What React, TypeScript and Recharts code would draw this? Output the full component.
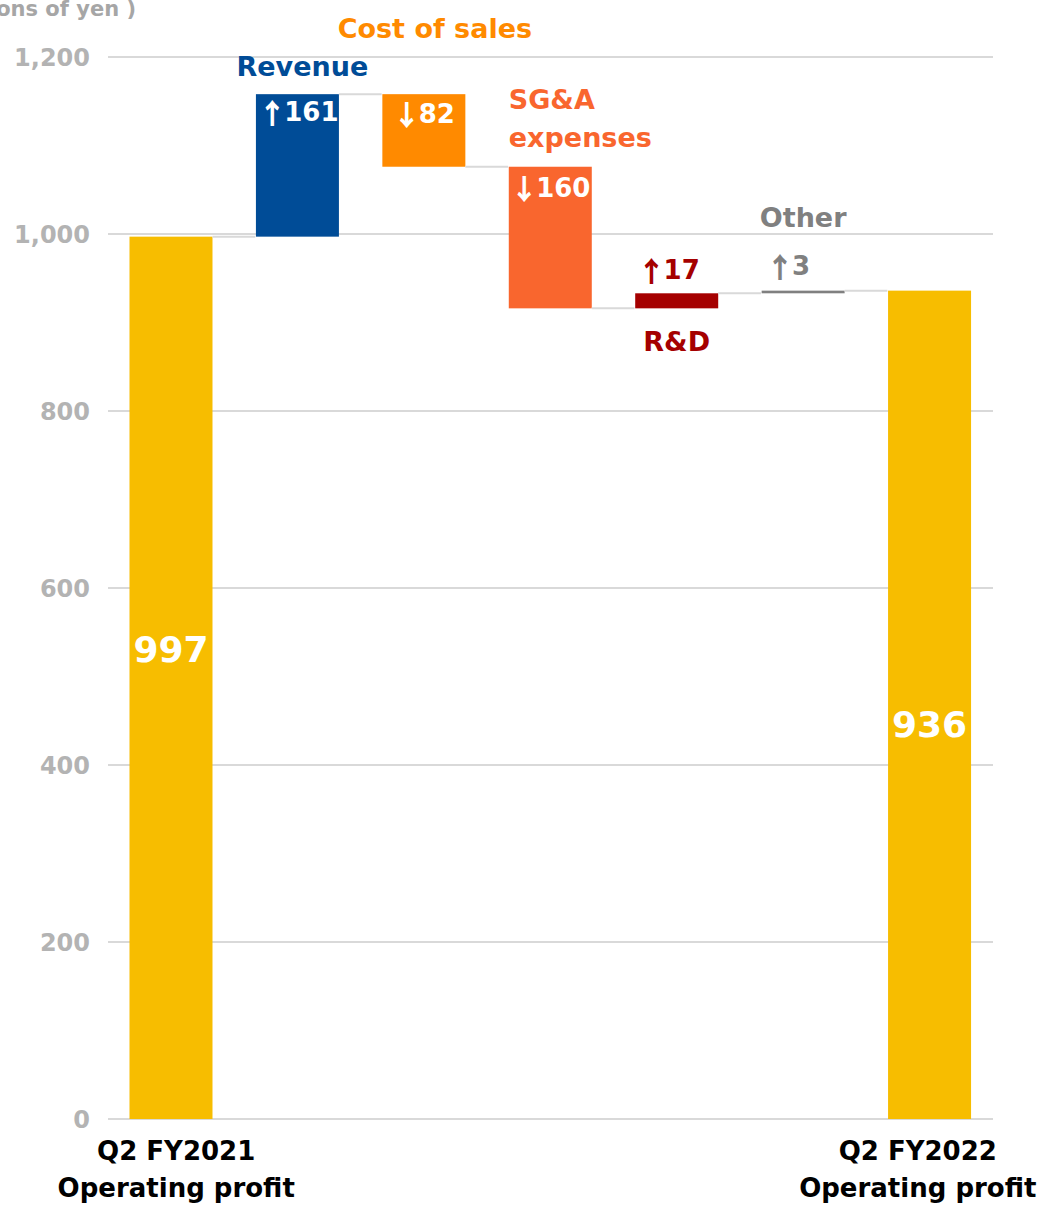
import { Bar, BarChart, CartesianGrid, XAxis, YAxis } from "recharts";

// operating profit bridge, millions of yen
const CATEGORIES = [
  "Q2 FY2021 Operating profit",
  "Revenue",
  "Cost of sales",
  "SG&A expenses",
  "R&D",
  "Other",
  "Q2 FY2022 Operating profit",
];
const START = 997;
const CHANGES = [161, -82, -160, 17, 3];
const END = 936;

const TICK_LABELS = [
  ["Q2 FY2021", "Operating profit"],
  [],
  [],
  [],
  [],
  [],
  ["Q2 FY2022", "Operating profit"],
];
const NAME_LABELS = [[], ["Revenue"], ["Cost of sales"], ["SG&A", "expenses"], ["R&D"], ["Other"], []];
const Y_TICKS = [0, 200, 400, 600, 800, 1000, 1200];

const COLORS = ["#F7BD00", "#004C97", "#FF8A00", "#F9662E", "#A50000", "#808080", "#F7BD00"];
// delta text is white when it sits inside the bar
const DELTA_COLORS = ["#FFFFFF", "#FFFFFF", "#FFFFFF", "#FFFFFF", "#A50000", "#808080", "#FFFFFF"];

const FONT = "'DejaVu Sans', sans-serif";
const ARROW_FONT = "'Noto Sans CJK JP', 'DejaVu Sans', sans-serif";
const GAP = 0.17;

// label placement, relative to each bar
const LAYOUT = [
  { valDy: -28, nameDx: 0, nameDy: 0, deltaDx: 0 },
  { valDy: 18, nameDx: 5, nameDy: -28, deltaDx: 1 },
  { valDy: 20, nameDx: 11, nameDy: -66, deltaDx: 0 },
  { valDy: 21, nameDx: 0, nameDy: -68, deltaDx: 0 },
  { valDy: -23, nameDx: 0, nameDy: 33, deltaDx: -8 },
  { valDy: -25, nameDx: 0, nameDy: -73, deltaDx: -15 },
  { valDy: 20, nameDx: 0, nameDy: 0, deltaDx: 0 },
];
const TICK_DX = [5, 0, 0, 0, 0, 0, -12];

let level = START;
const rows = CATEGORIES.map((name, i) => {
  if (i === 0) return { name, range: [0, START], value: START, kind: "total" };
  if (i === CATEGORIES.length - 1) return { name, range: [0, END], value: END, kind: "total" };
  const d = CHANGES[i - 1];
  const from = level;
  level += d;
  return {
    name,
    range: [Math.min(from, level), Math.max(from, level)],
    value: d,
    kind: d >= 0 ? "up" : "down",
  };
});

function WaterfallBar(props: any) {
  const { x, y, width, height, payload } = props;
  const i = CATEGORIES.indexOf(payload.name);
  const lay = LAYOUT[i];
  const cx = x + width / 2;
  const last = i === CATEGORIES.length - 1;
  const endY = payload.kind === "down" ? y + height : y;
  const gap = (width * 2 * GAP) / (1 - 2 * GAP);
  const names = NAME_LABELS[i];

  let valueText: any = null;
  if (payload.kind === "total") {
    valueText = (
      <text x={cx} y={y + height / 2 + lay.valDy} textAnchor="middle" dominantBaseline="central"
        fill="#FFFFFF" fontSize={36} fontWeight="bold" fontFamily={FONT}>
        {payload.value}
      </text>
    );
  } else {
    const arrow = payload.value >= 0 ? "\u2191" : "\u2193";
    const inside = DELTA_COLORS[i] === "#FFFFFF";
    valueText = (
      <text x={cx + lay.deltaDx} y={(inside || lay.valDy < 0 ? y : y + height) + lay.valDy}
        textAnchor="middle" dominantBaseline="central"
        fill={DELTA_COLORS[i]} fontSize={26} fontWeight="bold" fontFamily={FONT}>
        <tspan fontFamily={ARROW_FONT} fontWeight={900} fontSize={28}>{arrow}</tspan>
        <tspan dx={-2}>{Math.abs(payload.value)}</tspan>
      </text>
    );
  }

  let nameText: any = null;
  if (names.length === 1) {
    const base = lay.nameDy > 0 ? y + height : y;
    nameText = (
      <text x={cx + lay.nameDx} y={base + lay.nameDy} textAnchor="middle" dominantBaseline="central"
        fill={COLORS[i]} fontSize={27} fontWeight="bold" fontFamily={FONT}>
        {names[0]}
      </text>
    );
  } else if (names.length > 1) {
    nameText = (
      <text x={x} y={y + lay.nameDy} textAnchor="start" dominantBaseline="central"
        fill={COLORS[i]} fontSize={27} fontWeight="bold" fontFamily={FONT}>
        {names.map((line: string, k: number) => (
          <tspan key={k} x={x} dy={k === 0 ? 0 : 38}>{line}</tspan>
        ))}
      </text>
    );
  }

  return (
    <g>
      <rect x={x} y={y} width={width} height={Math.max(height, 1)} fill={COLORS[i]} />
      {!last && (
        <line x1={x + width} x2={x + width + gap} y1={endY} y2={endY} stroke="#D9D9D9" strokeWidth={2} />
      )}
      {valueText}
      {nameText}
    </g>
  );
}

function CategoryTick(props: any) {
  const { x, y, payload } = props;
  const i = CATEGORIES.indexOf(payload.value);
  const lines = TICK_LABELS[i] || [];
  return (
    <text x={x + TICK_DX[i]} y={y + 24} textAnchor="middle" dominantBaseline="central"
      fill="#000000" fontSize={26} fontWeight="bold" fontFamily={FONT}>
      {lines.map((line: string, k: number) => (
        <tspan key={k} x={x + TICK_DX[i]} dy={k === 0 ? 0 : 37}>{line}</tspan>
      ))}
    </text>
  );
}

export default function App() {
  return (
    <div style={{ position: "absolute", left: 0, top: 0, width: 1045, height: 1209, background: "#fff" }}>
      <div
        style={{
          position: "absolute",
          right: 1045 - 136,
          top: -3,
          whiteSpace: "nowrap",
          fontFamily: FONT,
          fontSize: 21,
          fontWeight: "bold",
          color: "#A6A6A6",
        }}
      >
        (In millions of yen )
      </div>
      <BarChart
        width={1045}
        height={1209}
        data={rows}
        margin={{ top: 57, right: 52, bottom: 0, left: 0 }}
        barCategoryGap={`${GAP * 100}%`}
      >
        <CartesianGrid vertical={false} stroke="#D9D9D9" strokeWidth={2} />
        <XAxis
          dataKey="name"
          height={90}
          axisLine={false}
          tickLine={false}
          interval={0}
          tick={<CategoryTick />}
        />
        <YAxis
          width={108}
          domain={[0, 1200]}
          ticks={Y_TICKS}
          axisLine={false}
          tickLine={false}
          tickMargin={12}
          tickFormatter={(v: number) => v.toLocaleString("en-US")}
          tick={{ fill: "#B3B3B3", fontSize: 24, fontWeight: "bold", fontFamily: FONT }}
        />
        <Bar dataKey="range" shape={<WaterfallBar />} isAnimationActive={false} />
      </BarChart>
    </div>
  );
}
